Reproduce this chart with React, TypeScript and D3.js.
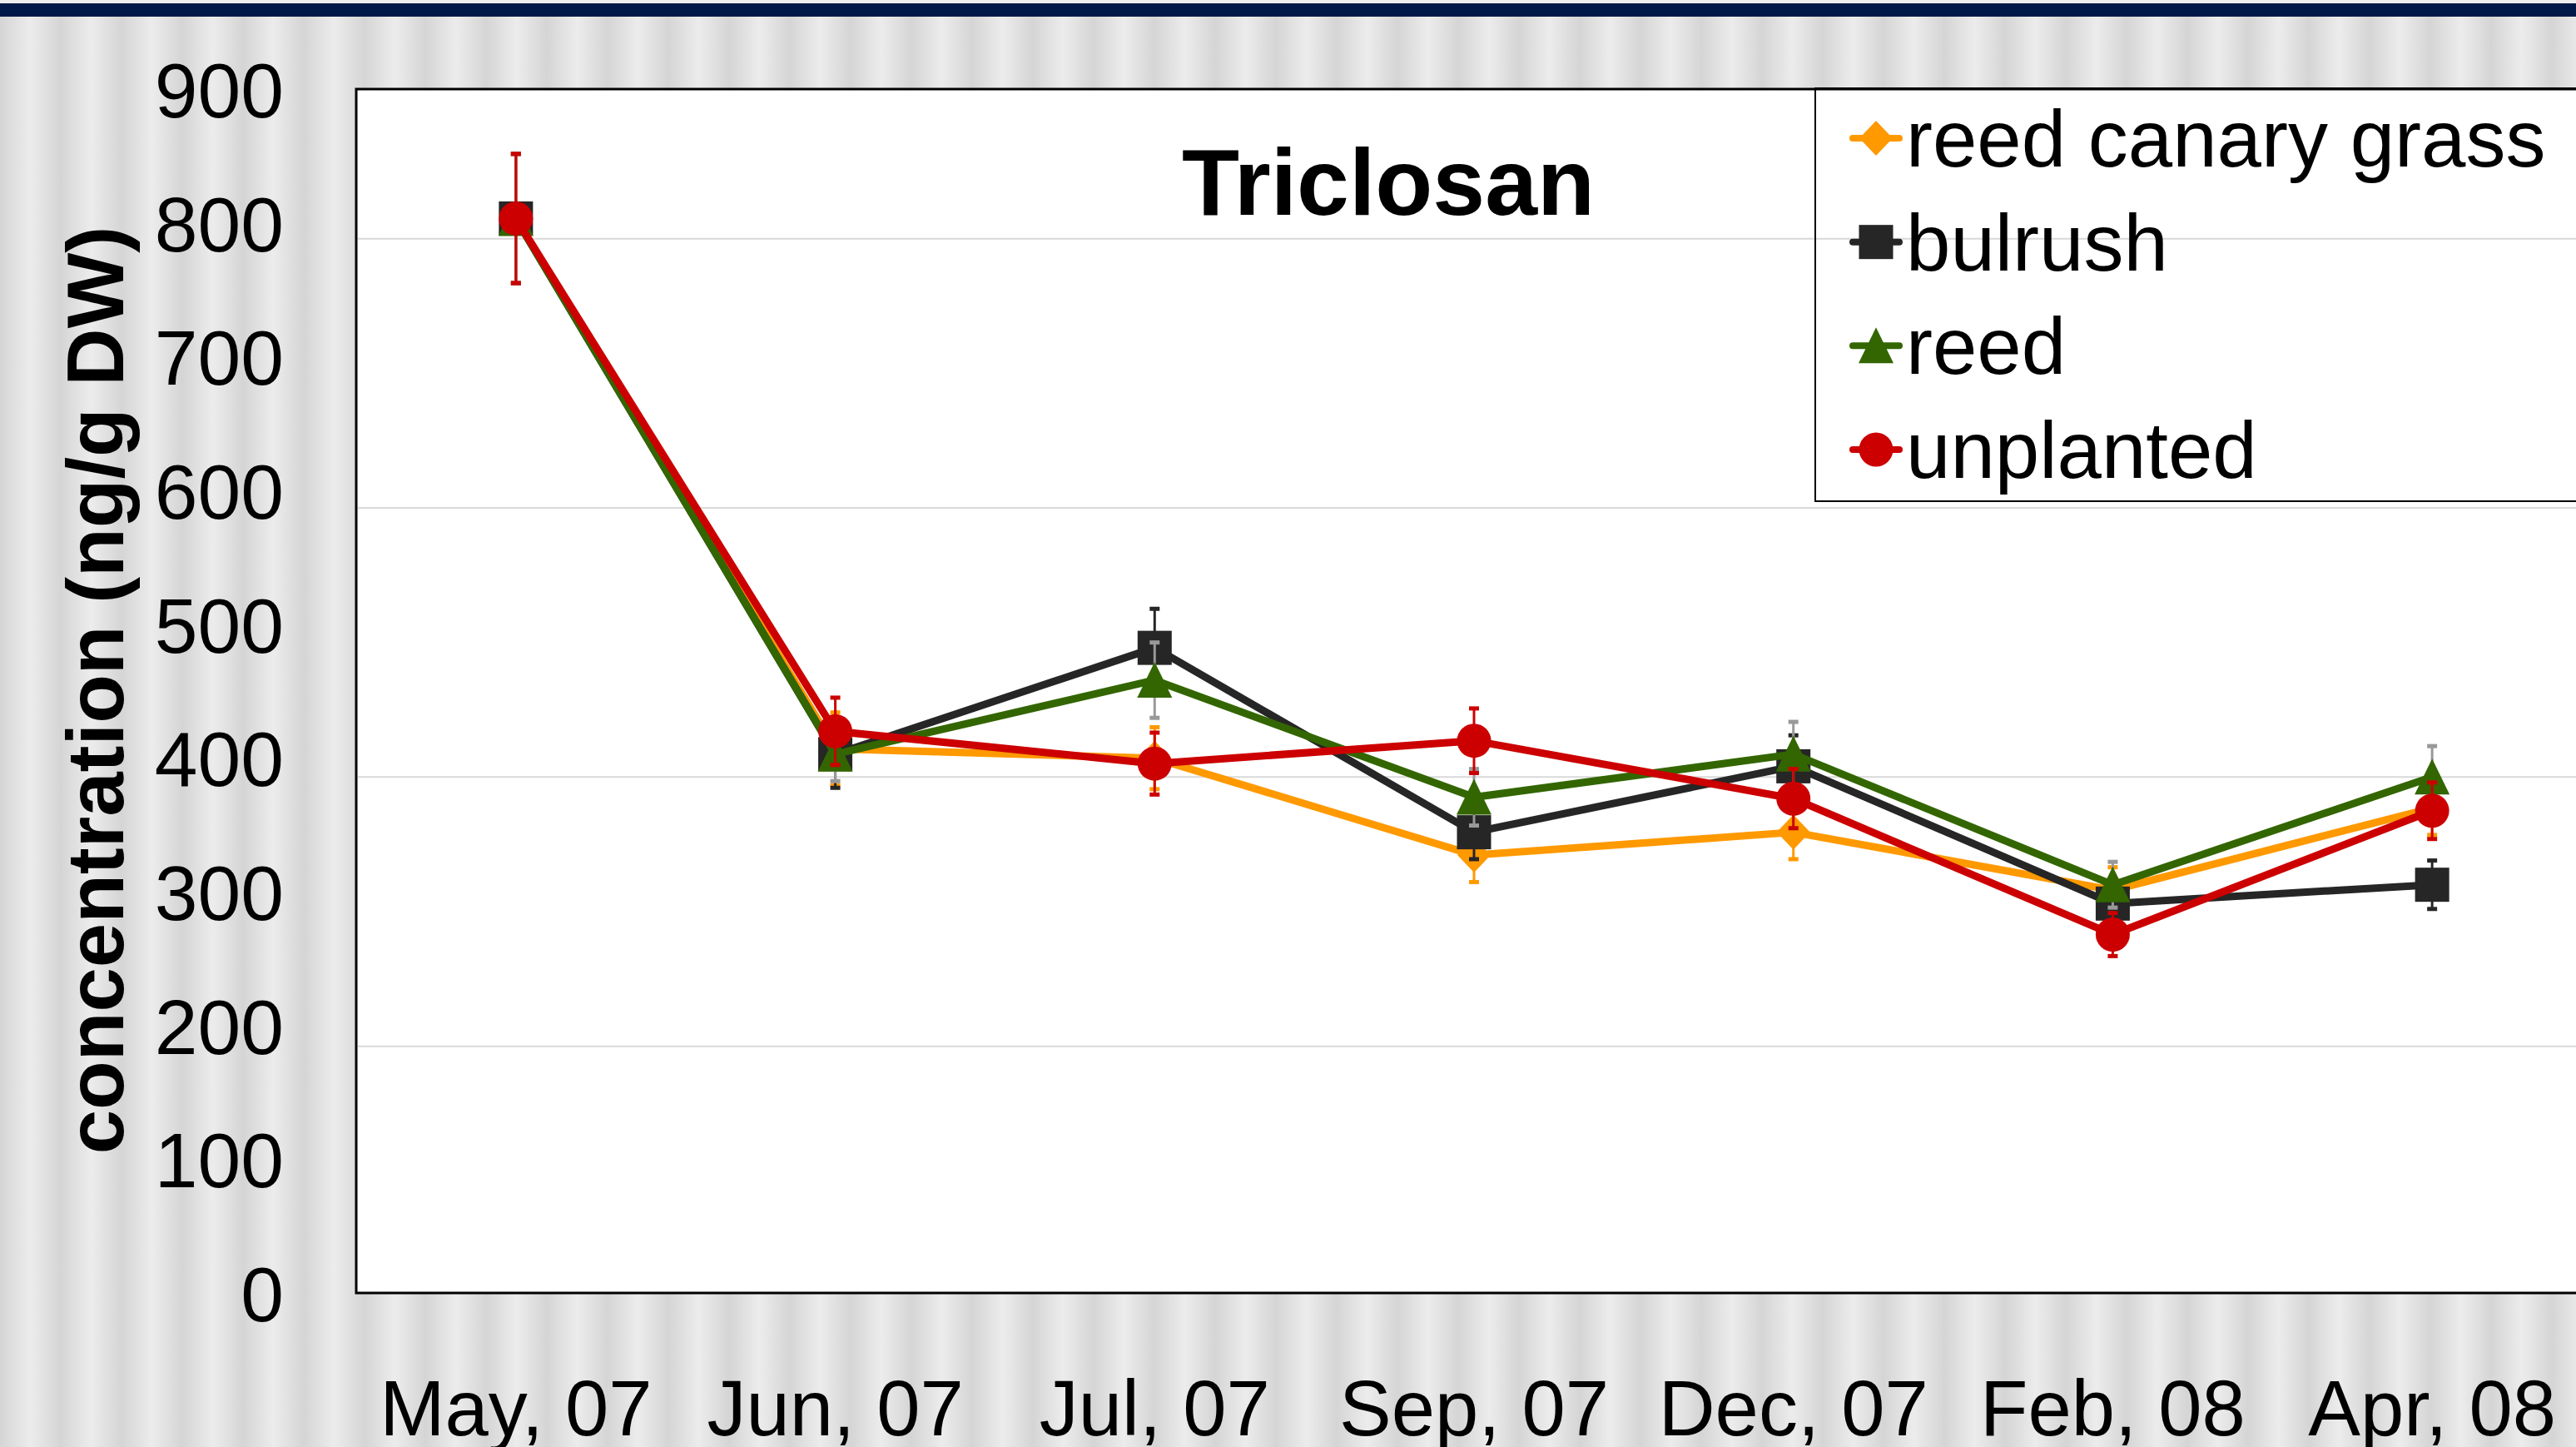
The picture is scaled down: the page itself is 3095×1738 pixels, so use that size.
import React from "react";
import * as d3 from "d3";

const categories = ["May, 07", "Jun, 07", "Jul, 07", "Sep, 07", "Dec, 07", "Feb, 08", "Apr, 08"];
const seriesNames = ["reed canary grass", "bulrush", "reed", "unplanted"];
const reedCanaryValues = [815, 421, 414, 342, 359, 316, 377];
const reedCanaryErrors = [48, 27, 23, 20, 20, 17, 20];
const bulrushValues = [815, 417, 496, 359, 408, 306, 320];
const bulrushErrors = [48, 25, 29, 20, 23, 17, 18];
const reedValues = [815, 417, 472, 385, 417, 320, 400];
const reedErrors = [48, 20, 28, 21, 24, 17, 23];
const unplantedValues = [815, 434, 410, 427, 384, 283, 375];
const unplantedErrors = [48, 25, 23, 24, 22, 16, 21];
const yTicks = [0, 100, 200, 300, 400, 500, 600, 700, 800, 900];
const gridTicks = [200, 400, 600, 800];

const W = 3095;
const H = 1738;
const FONT = "'Liberation Sans', Arial, sans-serif";

type Shape = "diamond" | "square" | "triangle" | "circle";

const styles: { color: string; errColor: string; shape: Shape }[] = [
  { color: "#FF9900", errColor: "#FF9900", shape: "diamond" },
  { color: "#262626", errColor: "#262626", shape: "square" },
  { color: "#336600", errColor: "#999999", shape: "triangle" },
  { color: "#CC0000", errColor: "#CC0000", shape: "circle" },
];

const allValues = [reedCanaryValues, bulrushValues, reedValues, unplantedValues];
const allErrors = [reedCanaryErrors, bulrushErrors, reedErrors, unplantedErrors];

// marker drawn around (x, y)
const Marker = ({ shape, x, y, color }: { shape: Shape; x: number; y: number; color: string }) => {
  if (shape === "circle") return <circle cx={x} cy={y} r={20.5} fill={color} />;
  if (shape === "square") return <rect x={x - 20.5} y={y - 20.5} width={41} height={41} fill={color} />;
  if (shape === "triangle")
    return <path d={`M${x},${y - 22}L${x + 21},${y + 21}L${x - 21},${y + 21}Z`} fill={color} />;
  return <path d={`M${x},${y - 21}L${x + 20},${y}L${x},${y + 21}L${x - 20},${y}Z`} fill={color} />;
};

export default function App() {
  const x = d3.scalePoint<string>().domain(categories).range([428, 3114]).padding(0.5);
  // scale of the embedded chart (gridlines + data)
  const y = d3.scaleLinear().domain([0, 900]).range([1580, 125]);
  // scale of the separate tick-label text
  const yLab = d3.scaleLinear().domain([0, 900]).range([1553, 107]);

  const line = d3
    .line<number>()
    .x((_, i) => x(categories[i]) as number)
    .y((d) => y(d));

  const legendY = d3.scalePoint<string>().domain(seriesNames).range([166, 540]);

  return (
    <div style={{ position: "absolute", left: 0, top: 0 }}>
      <svg width={W} height={H} style={{ display: "block" }}>
        <defs>
          <linearGradient id="stripe" x1="0" x2="1" y1="0" y2="0">
            <stop offset="0" stopColor="#d5d5d5" />
            <stop offset="0.5" stopColor="#ececec" />
            <stop offset="1" stopColor="#d5d5d5" />
          </linearGradient>
          <pattern id="bg" width={73} height={H} patternUnits="userSpaceOnUse">
            <rect width={73} height={H} fill="url(#stripe)" />
          </pattern>
        </defs>

        {/* background */}
        <rect width={W} height={H} fill="url(#bg)" />
        <rect x={0} y={0} width={W} height={4} fill="#eeeeee" />
        <rect x={0} y={4} width={W} height={16} fill="#001848" />

        {/* plot area */}
        <rect x={428} y={107} width={W} height={1446} fill="#ffffff" />
        {gridTicks.map((t) => (
          <line key={t} x1={430} x2={W} y1={y(t)} y2={y(t)} stroke="#d9d9d9" strokeWidth={2} />
        ))}
        <rect x={428} y={107} width={W} height={1446} fill="none" stroke="#000" strokeWidth={3} />

        {/* title */}
        <text x={1668} y={258} textAnchor="middle" fontFamily={FONT} fontWeight="bold" fontSize={113}>
          Triclosan
        </text>

        {/* series */}
        {allValues.map((vals, s) => {
          const st = styles[s];
          return (
            <g key={s}>
              {vals.map((v, i) => {
                const cx = x(categories[i]) as number;
                const e = allErrors[s][i];
                return (
                  <g key={i} stroke={st.errColor} strokeWidth={3}>
                    <line x1={cx} x2={cx} y1={y(v + e)} y2={y(v - e)} />
                    <line x1={cx - 6} x2={cx + 6} y1={y(v + e)} y2={y(v + e)} strokeWidth={5} />
                    <line x1={cx - 6} x2={cx + 6} y1={y(v - e)} y2={y(v - e)} strokeWidth={5} />
                  </g>
                );
              })}
              <path d={line(vals) || ""} fill="none" stroke={st.color} strokeWidth={9} strokeLinejoin="round" />
              {vals.map((v, i) => (
                <Marker key={i} shape={st.shape} x={x(categories[i]) as number} y={y(v)} color={st.color} />
              ))}
            </g>
          );
        })}

        {/* y tick labels */}
        {yTicks.map((t) => (
          <text key={t} x={341} y={yLab(t) + 34} textAnchor="end" fontFamily={FONT} fontSize={93}>
            {t}
          </text>
        ))}

        {/* x tick labels */}
        {categories.map((c) => (
          <text key={c} x={x(c)} y={1724} textAnchor="middle" fontFamily={FONT} fontSize={94}>
            {c}
          </text>
        ))}

        {/* y axis title */}
        <text
          transform="translate(148,829) rotate(-90)"
          textAnchor="middle"
          fontFamily={FONT}
          fontWeight="bold"
          fontSize={96}
        >
          concentration (ng/g DW)
        </text>

        {/* legend */}
        <rect x={2181} y={106} width={W} height={496} fill="none" stroke="#000" strokeWidth={2} />
        {seriesNames.map((n, s) => {
          const ly = legendY(n) as number;
          const st = styles[s];
          return (
            <g key={n}>
              <line x1={2226} x2={2282} y1={ly} y2={ly} stroke={st.color} strokeWidth={8} strokeLinecap="round" />
              <Marker shape={st.shape} x={2254} y={ly} color={st.color} />
              <text x={2290} y={ly + 34} fontFamily={FONT} fontSize={96}>
                {n}
              </text>
            </g>
          );
        })}
      </svg>
    </div>
  );
}
